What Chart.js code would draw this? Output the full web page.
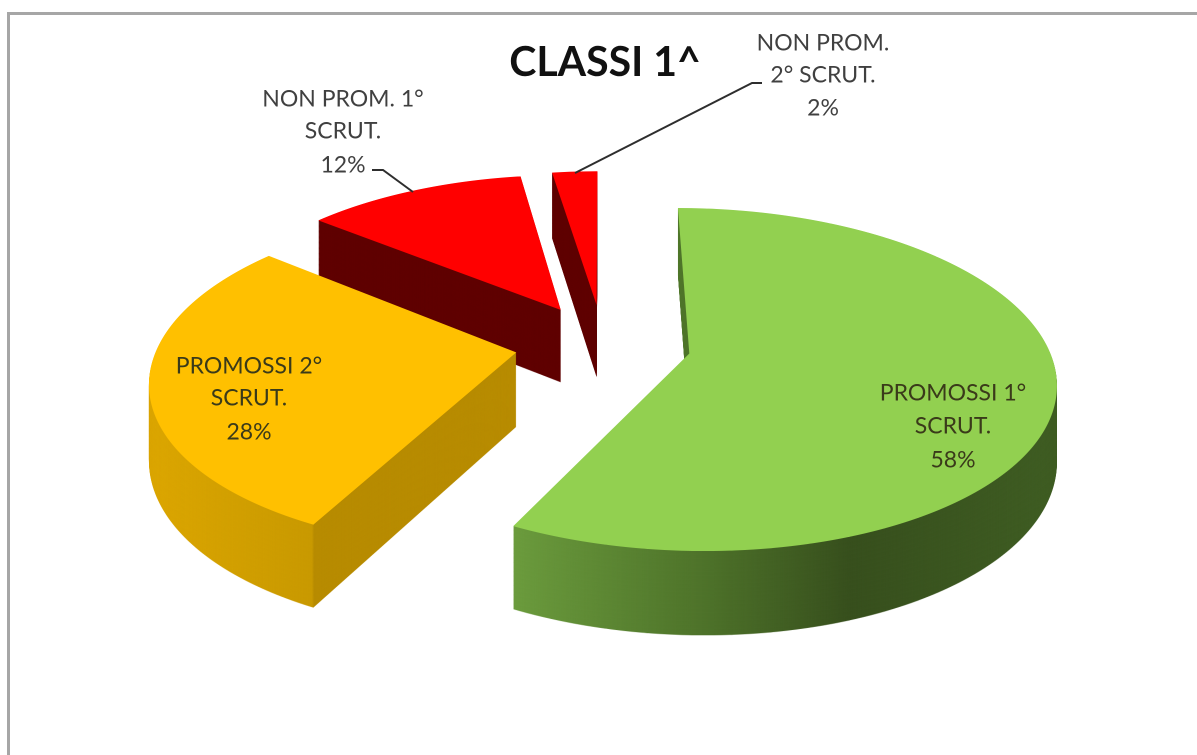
<!DOCTYPE html>
<html>
<head>
<meta charset="utf-8">
<title>Classi 1^</title>
<style>
  html, body { margin: 0; padding: 0; background: #fff; overflow: hidden; }
  #wrap { position: relative; width: 1197px; height: 755px; }
  #frame { position: absolute; left: 7px; top: 12px; right: 0; bottom: 0; border-left: 3px solid #a6a6a6; border-top: 3px solid #a6a6a6; filter: blur(0.5px); }
  canvas { position: absolute; left: 0; top: 0; filter: blur(0.5px); }
</style>
</head>
<body>
<div id="wrap">
  <div id="frame"></div>
  <canvas id="pie" width="1197" height="755"></canvas>
</div>
<script src="https://cdn.jsdelivr.net/npm/chart.js@4/dist/chart.umd.min.js"></script>
<script>
const categories = ['PROMOSSI 1° SCRUT.', 'PROMOSSI 2° SCRUT.', 'NON PROM. 1° SCRUT.', 'NON PROM. 2° SCRUT.'];
const values = [57.5, 28.4, 11.7, 2.4];
const labelLines = [['PROMOSSI 1°', 'SCRUT.'], ['PROMOSSI 2°', 'SCRUT.'], ['NON PROM. 1°', 'SCRUT.'], ['NON PROM.', '2° SCRUT.']];
const topColors = ['#92d050', '#ffc000', '#ff0000', '#ff0000'];

// side wall colours, left to right, as [x, colour]
const wallStops = [
  [[513, '#6c9c3e'], [700, '#4f742b'], [850, '#38501e'], [1057, '#405e24']],
  [[160, '#dba600'], [312, '#c99a00'], [314, '#b88c00'], [520, '#b88c00']],
  [[300, '#600000'], [600, '#600000']],
  [[300, '#600000'], [600, '#600000']],
];

// where each label sits: centre x and the y of each line
const labelSpots = [[953, [393, 426, 460]], [249, [366, 398, 432]], [343, [99, 131, 165]], [823, [43, 75, 108]]];
const leaders = [
  [[372, 170], [383, 170], [413, 192]],
  [[575, 173], [752, 83], [762, 83]],
];

// pie plane as seen by the camera
const view = { cx: 603, cy: 344, tilt: 0.46, persp: 0.00042, explode: 88, depth: 74, depthGrow: 0.00067 };
const W = 1197, H = 755, DPR = 2;

// draws one arc of the chart through the camera, one canvas row at a time
function drawFace(ctx, arc) {
  const mid = (arc.startAngle + arc.endAngle) / 2;
  const ex = Math.cos(mid) * view.explode;
  const ey = Math.sin(mid) * view.explode;
  for (let row = 0; row < H * DPR; row++) {
    const y = (row + 0.5) / DPR;
    const v = y - view.cy;
    const yg = v / (view.tilt + view.persp * v);
    const w = 1 + (view.persp / view.tilt) * v;
    if (w <= 0) continue;
    const d = view.tilt * w * w;
    ctx.save();
    ctx.setTransform(DPR, 0, 0, DPR, 0, 0);
    ctx.beginPath();
    ctx.rect(0, row / DPR, W, 1 / DPR);
    ctx.clip();
    ctx.transform(w, 0, 0, d, view.cx + (ex - arc.x) * w, y + d * (ey - arc.y - yg));
    arc.draw(ctx);
    ctx.restore();
  }
}

function makeLayer() {
  const c = document.createElement('canvas');
  c.width = W * DPR;
  c.height = H * DPR;
  return c;
}

const pie3d = {
  id: 'pie3d',
  beforeDatasetsDraw(chart) {
    const ctx = chart.ctx;
    const arcs = chart.getDatasetMeta(0).data;
    // back slices first so the orange top lies over the dark red wall
    [3, 2, 1, 0].forEach((i) => {
      const face = makeLayer();
      const faceCtx = face.getContext('2d');
      drawFace(faceCtx, arcs[i]);

      const wall = makeLayer();
      const wallCtx = wall.getContext('2d');
      wallCtx.drawImage(face, 0, 0);
      wallCtx.globalCompositeOperation = 'source-in';
      const stops = wallStops[i];
      const x0 = stops[0][0];
      const x1 = stops[stops.length - 1][0];
      const grad = wallCtx.createLinearGradient(x0 * DPR, 0, x1 * DPR, 0);
      stops.forEach(([x, col]) => grad.addColorStop((x - x0) / (x1 - x0), col));
      wallCtx.fillStyle = grad;
      wallCtx.fillRect(0, 0, W * DPR, H * DPR);

      // lower planes are the same picture pushed down and stretched
      for (let h = view.depth; h > 0; h -= 0.5) {
        const s = 1 + h * view.depthGrow;
        ctx.save();
        ctx.transform(1, 0, 0, s, 0, h - (s - 1) * view.cy);
        ctx.drawImage(wall, 0, 0, W, H);
        ctx.restore();
      }
      ctx.drawImage(face, 0, 0, W, H);
    });
    return false;
  },
  afterDraw(chart) {
    const ctx = chart.ctx;
    ctx.save();
    ctx.strokeStyle = '#2e2e2e';
    ctx.lineWidth = 2;
    leaders.forEach((pts) => {
      ctx.beginPath();
      pts.forEach(([x, y], k) => (k ? ctx.lineTo(x, y) : ctx.moveTo(x, y)));
      ctx.stroke();
    });

    ctx.textAlign = 'center';
    ctx.textBaseline = 'middle';
    ctx.fillStyle = '#111111';
    ctx.font = 'bold 41px Lato';
    ctx.fillText('CLASSI 1^', 605, 63);

    ctx.font = '23px Lato';
    labelSpots.forEach(([x, ys], i) => {
      ctx.fillStyle = i < 2 ? '#3a3a1a' : '#404040';
      const lines = [...labelLines[i], `${Math.round(values[i])}%`];
      lines.forEach((line, k) => ctx.fillText(line, x, ys[k]));
    });
    ctx.restore();
  },
};

new Chart(document.getElementById('pie'), {
  type: 'pie',
  data: {
    labels: categories,
    datasets: [{ data: values, backgroundColor: topColors, borderWidth: 0, radius: 358 }],
  },
  options: {
    responsive: false,
    devicePixelRatio: DPR,
    animation: false,
    plugins: { legend: { display: false }, tooltip: { enabled: false } },
  },
  plugins: [pie3d],
});
</script>
</body>
</html>
